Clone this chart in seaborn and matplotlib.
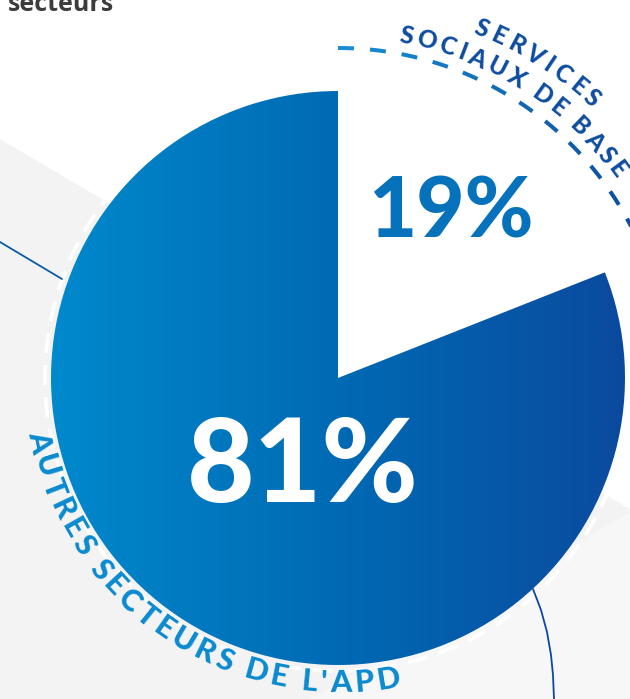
import numpy as np
import matplotlib
matplotlib.use("Agg")
import matplotlib.pyplot as plt
import seaborn as sns
from matplotlib.colors import LinearSegmentedColormap
from matplotlib.patches import Polygon
from matplotlib.font_manager import FontProperties

# data
shares = [19, 81]
share_texts = ["19%", "81%"]
top_label_lines = ["SERVICES", "SOCIAUX DE BASE"]
bottom_label = "AUTRES SECTEURS DE L'APD"
heading_tail = "secteurs"

W, H = 630, 699
sns.set_theme(style="white")
plt.rcParams['font.family'] = ['Lato', 'DejaVu Sans']

fig = plt.figure(figsize=(6.3, 6.99), dpi=100)
ax = fig.add_axes([0, 0, 1, 1])
renderer = fig.canvas.get_renderer()

cx, cy, R = 338, H - 378, 287
blue_cmap = LinearSegmentedColormap.from_list("apd", ["#0089cd", "#006ab4", "#0b4a9e"])

# light grey background bands
ax.add_patch(Polygon([(0, H - 140), (W, H - 510), (W, 0), (0, 0)], color="#f3f3f3", zorder=0))
ax.add_patch(Polygon([(W, H - 512), (W, 0), (310, 0)], color="#f7f7f7", zorder=0.5))

# pie
wedges, _ = ax.pie(shares, startangle=90, counterclock=False, center=(cx, cy), radius=R)
wedges[0].set_facecolor("white")
wedges[0].set_edgecolor("none")
wedges[1].set_facecolor("none")
wedges[1].set_edgecolor("none")
for w in wedges:
    w.set_zorder(2)
grad = np.linspace(0, 1, 512).reshape(1, -1)
im = ax.imshow(grad, cmap=blue_cmap, extent=(cx - R, cx + R, cy - R, cy + R),
               aspect="auto", zorder=2)
im.set_clip_path(wedges[1])


def dashed_arc(r, t0, t1, dash, gap, lw, color_at, z=3):
    total = abs(t1 - t0) * np.pi / 180 * r
    sgn = np.sign(t1 - t0)
    s = 0.0
    while s < total:
        e = min(s + dash, total)
        th = np.radians(t0 + sgn * np.linspace(s, e, 8) / r * 180 / np.pi)
        xs = cx + r * np.cos(th)
        ys = cy + r * np.sin(th)
        ax.plot(xs, ys, color=color_at(xs.mean()), lw=lw, solid_capstyle="butt", zorder=z)
        s += dash + gap


dash_cmap = LinearSegmentedColormap.from_list("dash", ["#1a8fd4", "#0b4fa0"])
small = wedges[0]
big = wedges[1]
dashed_arc(330, small.theta2, small.theta1, 16, 16, 2.9,
           lambda x: dash_cmap(np.clip((x - 338) / 290, 0, 1)))
dashed_arc(293, big.theta2, big.theta1, 20, 12, 2.6, lambda x: "white", z=1.5)


def char_width(ch, fp):
    a = renderer.get_text_width_height_descent("|" + ch + "|", fp, ismath=False)[0]
    b = renderer.get_text_width_height_descent("||", fp, ismath=False)[0]
    return a - b


def arc_text(text, r_mid, t_first, t_last, size, color, tops_out):
    fp = FontProperties(family=["Lato", "DejaVu Sans"], size=size, weight="black")
    widths = np.array([char_width(ch, fp) for ch in text])
    n = len(text)
    target = abs(t_first - t_last) * np.pi / 180 * r_mid
    natural = widths.sum() - widths[0] / 2 - widths[-1] / 2
    track = (target - natural) / (n - 1)
    cap = 0.72 * size * 100 / 72
    r_b = r_mid - cap / 2 if tops_out else r_mid + cap / 2
    sgn = -1 if tops_out else 1
    pos = 0.0
    for i, ch in enumerate(text):
        if i > 0:
            pos += widths[i - 1] / 2 + track + widths[i] / 2
        th = t_first + sgn * pos / r_mid * 180 / np.pi
        rot = th - 90 if tops_out else th + 90
        t = np.radians(th)
        ax.text(cx + r_b * np.cos(t), cy + r_b * np.sin(t), ch, fontproperties=fp,
                color=color, rotation=rot, rotation_mode="anchor",
                ha="center", va="baseline", zorder=5)


arc_text(top_label_lines[0], 379, 67.6, 47.8, 17.5, "#0d4c9f", True)
arc_text(top_label_lines[1], 350, 78.7, 36.7, 17.5, "#0d4c9f", True)
arc_text(bottom_label, 303, 192.0, 279.5, 22, "#0a8ad0", False)

# share values
ax.text(451, H - 213, share_texts[0], fontsize=60, fontweight="black", color="#0772bc",
        ha="center", va="center", zorder=5)
ax.text(303, H - 468, share_texts[1], fontsize=84, fontweight="black", color="white",
        ha="center", va="center", zorder=5)

# cut-off heading
ax.text(8, H - 11, heading_tail, fontsize=18, fontweight="bold", color="#3c3c3c",
        family=["Open Sans", "DejaVu Sans"], ha="left", va="baseline", zorder=5)

# connector lines
ax.plot([0, 62], [H - 242, H - 279], color="#0b5aa8", lw=1.3, zorder=3)
lx = [533, 541, 547, 551, 553, 554]
ly = [589, 610, 632, 655, 675, 699]
ax.plot(lx, [H - v for v in ly], color="#0d47a1", lw=1.3, zorder=3)

ax.set_xlim(0, W)
ax.set_ylim(0, H)
ax.set_aspect("equal")
ax.axis("off")
fig.savefig("out.png", dpi=100)
